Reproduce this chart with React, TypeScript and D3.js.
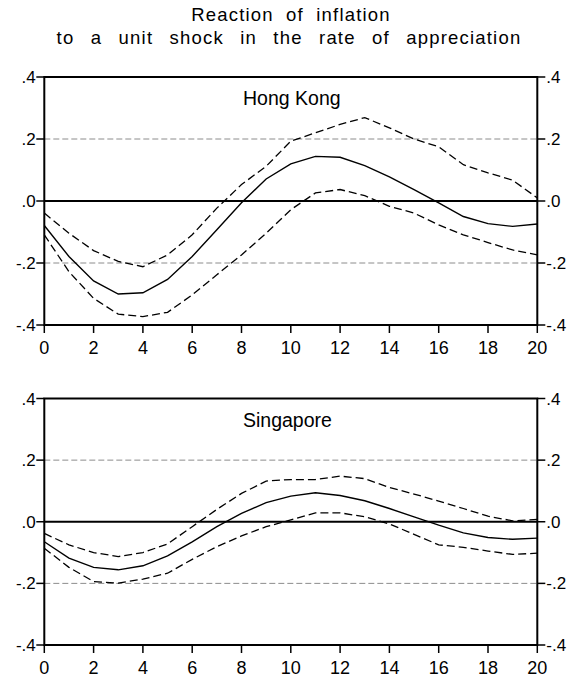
import React from "react";
import * as d3 from "d3";

const horizons = d3.range(0, 21);

const hkResponse = [-0.079, -0.179, -0.258, -0.300, -0.296, -0.253, -0.179, -0.093, -0.006, 0.071, 0.120, 0.144, 0.141, 0.114, 0.078, 0.037, -0.006, -0.050, -0.073, -0.082, -0.074];
const hkUpper = [-0.039, -0.104, -0.160, -0.195, -0.212, -0.174, -0.109, -0.023, 0.053, 0.112, 0.193, 0.220, 0.247, 0.269, 0.236, 0.200, 0.175, 0.117, 0.091, 0.067, 0.010];
const hkLower = [-0.109, -0.228, -0.314, -0.365, -0.373, -0.359, -0.303, -0.238, -0.174, -0.104, -0.028, 0.026, 0.037, 0.017, -0.017, -0.039, -0.077, -0.109, -0.134, -0.158, -0.174];

const sgResponse = [-0.065, -0.118, -0.148, -0.156, -0.143, -0.111, -0.065, -0.016, 0.027, 0.062, 0.083, 0.094, 0.085, 0.068, 0.043, 0.016, -0.011, -0.036, -0.051, -0.057, -0.053];
const sgUpper = [-0.038, -0.075, -0.100, -0.113, -0.100, -0.072, -0.016, 0.040, 0.092, 0.132, 0.137, 0.137, 0.148, 0.140, 0.111, 0.090, 0.067, 0.043, 0.018, 0.003, 0.008];
const sgLower = [-0.086, -0.148, -0.194, -0.199, -0.186, -0.167, -0.122, -0.081, -0.046, -0.016, 0.006, 0.029, 0.029, 0.016, -0.007, -0.041, -0.075, -0.083, -0.095, -0.106, -0.102];

const xTicks = [0, 2, 4, 6, 8, 10, 12, 14, 16, 18, 20];
const yTicks = [0.4, 0.2, 0.0, -0.2, -0.4];
const yTickLabels = [".4", ".2", ".0", "-.2", "-.4"];

const titleLine1 = "Reaction of inflation";
const titleLine2 = "to a unit shock in the rate of appreciation";

const FONT = "'Liberation Sans', Arial, sans-serif";

type PanelProps = {
  top: number;
  bottom: number;
  name: string;
  response: number[];
  upper: number[];
  lower: number[];
};

const LEFT = 44.3;
const RIGHT = 537.3;

function Panel({ top, bottom, name, response, upper, lower }: PanelProps) {
  const x = d3.scaleLinear().domain([0, 20]).range([LEFT, RIGHT]);
  const y = d3.scaleLinear().domain([-0.4, 0.4]).range([bottom, top]);
  const line = d3
    .line<number>()
    .x((_, i) => x(horizons[i]))
    .y((d) => y(d));
  return (
    <g>
      {[0.2, -0.2].map((v) => (
        <line key={v} x1={LEFT} x2={RIGHT} y1={y(v)} y2={y(v)} stroke="#8c8c8c" strokeWidth={1} strokeDasharray="6,3" />
      ))}
      <line x1={LEFT} x2={RIGHT} y1={y(0)} y2={y(0)} stroke="#000" strokeWidth={2} />
      <path d={line(upper) || ""} fill="none" stroke="#000" strokeWidth={1.3} strokeDasharray="8,4" />
      <path d={line(lower) || ""} fill="none" stroke="#000" strokeWidth={1.3} strokeDasharray="8,4" />
      <path d={line(response) || ""} fill="none" stroke="#000" strokeWidth={1.4} />
      <rect x={LEFT} y={top} width={RIGHT - LEFT} height={bottom - top} fill="none" stroke="#000" strokeWidth={2} />
      {yTicks.map((v, i) => (
        <g key={"y" + i}>
          <line x1={LEFT - 8} x2={LEFT} y1={y(v)} y2={y(v)} stroke="#000" strokeWidth={1.5} />
          <line x1={RIGHT} x2={RIGHT + 8} y1={y(v)} y2={y(v)} stroke="#000" strokeWidth={1.5} />
          <text x={LEFT - 8.5} y={y(v)} dy="0.36em" textAnchor="end" fontFamily={FONT} fontSize={17}>
            {yTickLabels[i]}
          </text>
          <text x={RIGHT + 9} y={y(v)} dy="0.36em" textAnchor="start" fontFamily={FONT} fontSize={17}>
            {yTickLabels[i]}
          </text>
        </g>
      ))}
      {xTicks.map((t) => (
        <g key={"x" + t}>
          <line x1={x(t)} x2={x(t)} y1={bottom} y2={bottom + 8} stroke="#000" strokeWidth={1.5} />
          <text x={x(t)} y={bottom + 29} textAnchor="middle" fontFamily={FONT} fontSize={18}>
            {t}
          </text>
        </g>
      ))}
      <text x={243} y={top + 28} fontFamily={FONT} fontSize={19.5}>
        {name}
      </text>
    </g>
  );
}

export default function App() {
  return (
    <svg
      width={575}
      height={682}
      style={{ position: "absolute", left: 0, top: 0, background: "#fff" }}
    >
      <rect width={575} height={682} fill="#fff" />
      <text x={291} y={21} textAnchor="middle" fontFamily={FONT} fontSize={18.5} letterSpacing={1.2} wordSpacing={6}>
        {titleLine1}
      </text>
      <text x={289} y={44} textAnchor="middle" fontFamily={FONT} fontSize={18.5} letterSpacing={1.2} wordSpacing={10}>
        {titleLine2}
      </text>
      <Panel top={77} bottom={325} name="Hong Kong" response={hkResponse} upper={hkUpper} lower={hkLower} />
      <Panel top={398.5} bottom={645} name="Singapore" response={sgResponse} upper={sgUpper} lower={sgLower} />
    </svg>
  );
}
